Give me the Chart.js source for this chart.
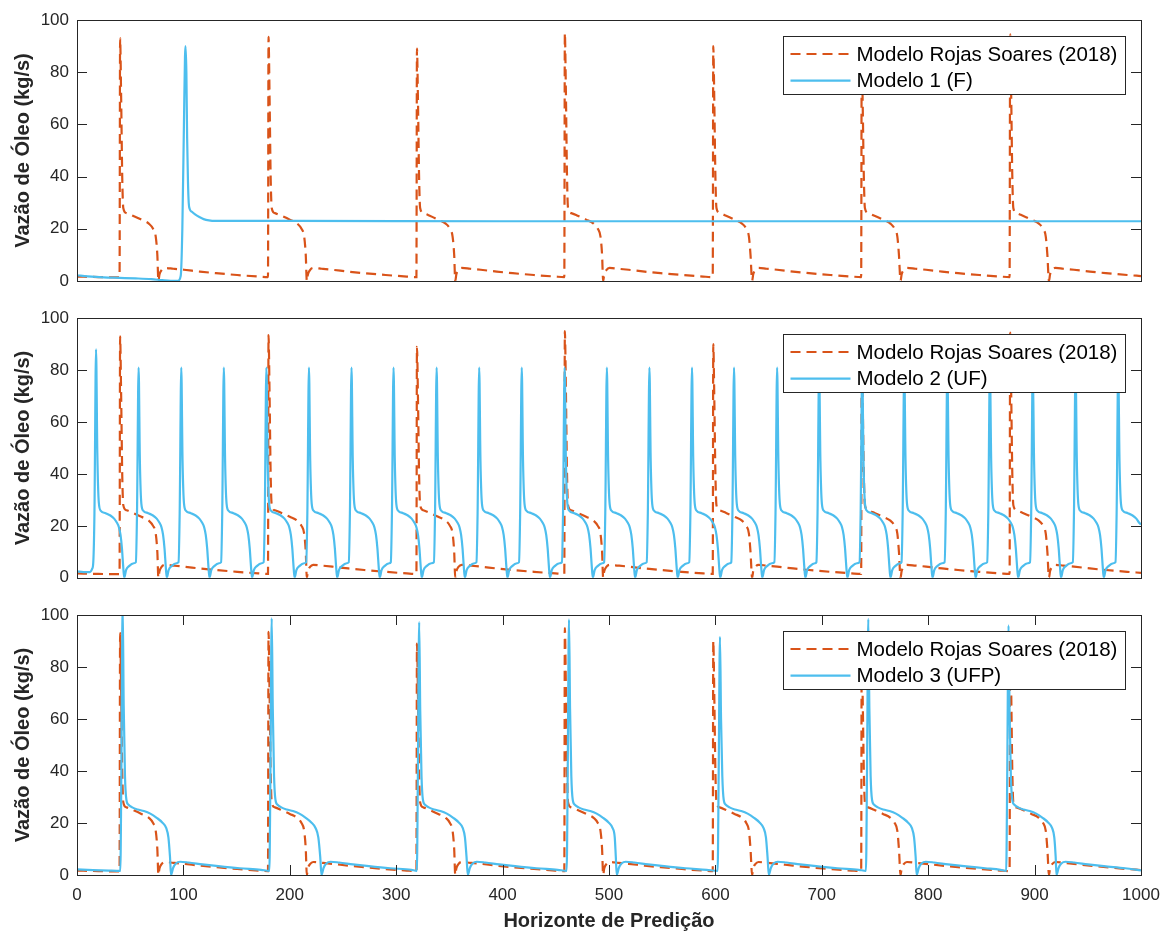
<!DOCTYPE html>
<html>
<head>
<meta charset="utf-8">
<script src="https://cdn.jsdelivr.net/npm/chart.js@4.4.0/dist/chart.umd.min.js"></script>
<style>
  html, body { margin: 0; padding: 0; background: #fff; }
  #wrap { position: relative; width: 1165px; height: 932px; }
  .panel { position: absolute; left: 0; }
</style>
</head>
<body>
<div id="wrap">
  <div class="panel" style="top:0px"><canvas id="c1" width="1165" height="300"></canvas></div>
  <div class="panel" style="top:300px"><canvas id="c2" width="1165" height="296"></canvas></div>
  <div class="panel" style="top:596px"><canvas id="c3" width="1165" height="336"></canvas></div>
</div>
<script>
// ---- labels / ticks ----
const rojasLabel = 'Modelo Rojas Soares (2018)';
const modelLabels = ['Modelo 1 (F)', 'Modelo 2 (UF)', 'Modelo 3 (UFP)'];
const yTitle = 'Vazão de Óleo (kg/s)';
const xTitle = 'Horizonte de Predição';
const xTickValues = [0, 100, 200, 300, 400, 500, 600, 700, 800, 900, 1000];
const yTickValues = [0, 20, 40, 60, 80, 100];

// ---- Modelo Rojas Soares (2018), same curve in all panels ----
const rojasX = [
  0, 20,
  40, 40.5, 41.5, 42.5, 43.5, 46.5, 52.5, 60.5, 67.5, 71.5, 74, 75.5, 76.5, 77.5, 79.5, 82.5, 90.5, 100.5, 115.5, 130.5, 150.5, 170.5,
  179.5, 180, 181, 182, 183, 186, 192, 200, 207, 211, 213.5, 215, 216, 217, 219, 222, 230, 240, 255, 270, 290, 310,
  319, 319.5, 320.5, 321.5, 322.5, 325.5, 331.5, 339.5, 346.5, 350.5, 353, 354.5, 355.5, 356.5, 358.5, 361.5, 369.5, 379.5, 394.5, 409.5, 429.5, 449.5,
  458, 458.5, 459.5, 460.5, 461.5, 464.5, 470.5, 478.5, 485.5, 489.5, 492, 493.5, 494.5, 495.5, 497.5, 500.5, 508.5, 518.5, 533.5, 548.5, 568.5, 588.5,
  597.5, 598, 599, 600, 601, 604, 610, 618, 625, 629, 631.5, 633, 634.5, 635.5, 637.5, 640.5, 648, 658, 673, 688, 708, 728,
  737, 737.5, 738.5, 739.5, 740.5, 743.5, 749.5, 757.5, 764.5, 768.5, 771, 772.5, 774, 775, 777, 780, 788, 798, 813, 828, 848, 868,
  876.5, 877, 878, 879, 880, 883, 889, 897, 904, 908, 910.5, 912, 913.5, 914.5, 916.5, 919.5, 927, 937, 952, 967, 987, 1000
];
const rojasY = [
  1.7, 1.5,
  1.4, 93, 70, 40, 28, 26, 25, 23.5, 22, 20, 17, 10, 0, 2.5, 4.2, 5, 4.7, 4.3, 3.6, 3, 2.3, 1.7,
  1.5, 93.5, 70, 40, 28, 26, 25, 23.5, 22, 20, 17, 10, 0, 2.5, 4.2, 5, 4.7, 4.3, 3.6, 3, 2.3, 1.7,
  1.5, 89, 68, 40, 28, 26, 25, 23.5, 22, 20, 17, 10, 0, 2.5, 4.2, 5, 4.7, 4.3, 3.6, 3, 2.3, 1.7,
  1.5, 95, 72, 41, 28, 26, 25, 23.5, 22, 20, 17, 10, 0, 2.5, 4.2, 5, 4.7, 4.3, 3.6, 3, 2.3, 1.7,
  1.5, 90, 68, 40, 28, 26, 25, 23.5, 22, 20, 17, 10, 0, 2.5, 4.2, 5, 4.7, 4.3, 3.6, 3, 2.3, 1.7,
  1.5, 88, 66, 40, 28, 26, 25, 23.5, 22, 20, 17, 10, 0, 2.5, 4.2, 5, 4.7, 4.3, 3.6, 3, 2.3, 1.7,
  1.5, 94.5, 71, 41, 28, 26, 25, 23.5, 22, 20, 17, 10, 0, 2.5, 4.2, 5, 4.7, 4.3, 3.6, 3, 2.3, 1.9
];

// ---- Modelo 1 (F) ----
const m1X = [0, 10, 25, 40, 55, 70, 80, 88, 95, 97.5, 99, 100.5, 101.5, 102, 102.8, 103.5, 104.3, 105, 106, 108, 111, 115, 119, 124, 130, 200, 400, 600, 800, 1000];
const m1Y = [2.2, 1.8, 1.4, 1.2, 1.0, 0.7, 0.3, 0.05, 0.1, 2, 20, 60, 86, 90, 80, 55, 38, 30, 27.5, 26.5, 25.5, 24.5, 23.7, 23.2, 23.0, 23.0, 22.9, 22.9, 22.9, 22.9];

// ---- Modelo 2 (UF) ----
const m2X = [
  0, 6, 12, 14.3,
  15.3, 16.4, 17.9, 19.1, 20.5, 22.4, 26.9, 31.4, 34.9, 37.4, 39.4, 40.9, 42.2, 43.4, 44.4, 46.1, 48.9, 53.4,
  55.3, 56.4, 57.9, 59.1, 60.5, 62.4, 66.9, 71.4, 74.9, 77.4, 79.4, 80.9, 82.2, 83.4, 84.4, 86.1, 88.9, 93.4,
  95.4, 96.5, 98, 99.2, 100.6, 102.5, 107, 111.5, 115, 117.5, 119.5, 121, 122.3, 123.5, 124.5, 126.2, 129, 133.5,
  135.4, 136.5, 138, 139.2, 140.6, 142.5, 147, 151.5, 155, 157.5, 159.5, 161, 162.3, 163.5, 164.5, 166.2, 169, 173.5,
  175.4, 176.5, 178, 179.2, 180.6, 182.5, 187, 191.5, 195, 197.5, 199.5, 201, 202.3, 203.5, 204.5, 206.2, 209, 213.5,
  215.4, 216.5, 218, 219.2, 220.6, 222.5, 227, 231.5, 235, 237.5, 239.5, 241, 242.3, 243.5, 244.5, 246.2, 249, 253.5,
  255.4, 256.5, 258, 259.2, 260.6, 262.5, 267, 271.5, 275, 277.5, 279.5, 281, 282.3, 283.5, 284.5, 286.2, 289, 293.5,
  294.9, 296, 297.5, 298.7, 300.1, 302, 306.5, 311, 314.5, 317, 319, 320.5, 321.8, 323, 324, 325.7, 328.5, 333,
  335.4, 336.5, 338, 339.2, 340.6, 342.5, 347, 351.5, 355, 357.5, 359.5, 361, 362.3, 363.5, 364.5, 366.2, 369, 373.5,
  375.4, 376.5, 378, 379.2, 380.6, 382.5, 387, 391.5, 395, 397.5, 399.5, 401, 402.3, 403.5, 404.5, 406.2, 409, 413.5,
  415.4, 416.5, 418, 419.2, 420.6, 422.5, 427, 431.5, 435, 437.5, 439.5, 441, 442.3, 443.5, 444.5, 446.2, 449, 453.5,
  455.7, 456.8, 458.3, 459.5, 460.9, 462.8, 467.3, 471.8, 475.3, 477.8, 479.8, 481.3, 482.6, 483.8, 484.8, 486.5, 489.3, 493.8,
  495.4, 496.5, 498, 499.2, 500.6, 502.5, 507, 511.5, 515, 517.5, 519.5, 521, 522.3, 523.5, 524.5, 526.2, 529, 533.5,
  535.4, 536.5, 538, 539.2, 540.6, 542.5, 547, 551.5, 555, 557.5, 559.5, 561, 562.3, 563.5, 564.5, 566.2, 569, 573.5,
  575.4, 576.5, 578, 579.2, 580.6, 582.5, 587, 591.5, 595, 597.5, 599.5, 601, 602.3, 603.5, 604.5, 606.2, 609, 613.5,
  614.9, 616, 617.5, 618.7, 620.1, 622, 626.5, 631, 634.5, 637, 639, 640.5, 641.8, 643, 644, 645.7, 648.5, 653,
  655.4, 656.5, 658, 659.2, 660.6, 662.5, 667, 671.5, 675, 677.5, 679.5, 681, 682.3, 683.5, 684.5, 686.2, 689, 693.5,
  694.9, 696, 697.5, 698.7, 700.1, 702, 706.5, 711, 714.5, 717, 719, 720.5, 721.8, 723, 724, 725.7, 728.5, 733,
  735.4, 736.5, 738, 739.2, 740.6, 742.5, 747, 751.5, 755, 757.5, 759.5, 761, 762.3, 763.5, 764.5, 766.2, 769, 773.5,
  774.9, 776, 777.5, 778.7, 780.1, 782, 786.5, 791, 794.5, 797, 799, 800.5, 801.8, 803, 804, 805.7, 808.5, 813,
  815.4, 816.5, 818, 819.2, 820.6, 822.5, 827, 831.5, 835, 837.5, 839.5, 841, 842.3, 843.5, 844.5, 846.2, 849, 853.5,
  855.4, 856.5, 858, 859.2, 860.6, 862.5, 867, 871.5, 875, 877.5, 879.5, 881, 882.3, 883.5, 884.5, 886.2, 889, 893.5,
  895.7, 896.8, 898.3, 899.5, 900.9, 902.8, 907.3, 911.8, 915.3, 917.8, 919.8, 921.3, 922.6, 923.8, 924.8, 926.5, 929.3, 933.8,
  935.9, 937, 938.5, 939.7, 941.1, 943, 947.5, 952, 955.5, 958, 960, 961.5, 962.8, 964, 965, 966.7, 969.5, 974,
  976, 977.1, 978.6, 979.8, 981.2, 983.1, 987.6, 992.1, 995.6, 998.1, 1000
];
const m2Y = [
  2.5, 2.2, 2.2, 3.5,
  6, 25, 88, 48, 29, 25.8, 24.9, 24, 22.8, 21.3, 19.5, 16.5, 11.5, 4.5, 0, 3, 4.5, 5.6,
  6, 25, 81, 45, 28.5, 25.8, 24.9, 24, 22.8, 21.3, 19.5, 16.5, 11.5, 4.5, 0, 3, 4.5, 5.6,
  6, 25, 81, 45, 28.5, 25.8, 24.9, 24, 22.8, 21.3, 19.5, 16.5, 11.5, 4.5, 0, 3, 4.5, 5.6,
  6, 25, 81, 45, 28.5, 25.8, 24.9, 24, 22.8, 21.3, 19.5, 16.5, 11.5, 4.5, 0, 3, 4.5, 5.6,
  6, 25, 81, 45, 28.5, 25.8, 24.9, 24, 22.8, 21.3, 19.5, 16.5, 11.5, 4.5, 0, 3, 4.5, 5.6,
  6, 25, 81, 45, 28.5, 25.8, 24.9, 24, 22.8, 21.3, 19.5, 16.5, 11.5, 4.5, 0, 3, 4.5, 5.6,
  6, 25, 81, 45, 28.5, 25.8, 24.9, 24, 22.8, 21.3, 19.5, 16.5, 11.5, 4.5, 0, 3, 4.5, 5.6,
  6, 25, 81, 45, 28.5, 25.8, 24.9, 24, 22.8, 21.3, 19.5, 16.5, 11.5, 4.5, 0, 3, 4.5, 5.6,
  6, 25, 81, 45, 28.5, 25.8, 24.9, 24, 22.8, 21.3, 19.5, 16.5, 11.5, 4.5, 0, 3, 4.5, 5.6,
  6, 25, 81, 45, 28.5, 25.8, 24.9, 24, 22.8, 21.3, 19.5, 16.5, 11.5, 4.5, 0, 3, 4.5, 5.6,
  6, 25, 81, 45, 28.5, 25.8, 24.9, 24, 22.8, 21.3, 19.5, 16.5, 11.5, 4.5, 0, 3, 4.5, 5.6,
  6, 25, 81, 45, 28.5, 25.8, 24.9, 24, 22.8, 21.3, 19.5, 16.5, 11.5, 4.5, 0, 3, 4.5, 5.6,
  6, 25, 81, 45, 28.5, 25.8, 24.9, 24, 22.8, 21.3, 19.5, 16.5, 11.5, 4.5, 0, 3, 4.5, 5.6,
  6, 25, 81, 45, 28.5, 25.8, 24.9, 24, 22.8, 21.3, 19.5, 16.5, 11.5, 4.5, 0, 3, 4.5, 5.6,
  6, 25, 81, 45, 28.5, 25.8, 24.9, 24, 22.8, 21.3, 19.5, 16.5, 11.5, 4.5, 0, 3, 4.5, 5.6,
  6, 25, 81, 45, 28.5, 25.8, 24.9, 24, 22.8, 21.3, 19.5, 16.5, 11.5, 4.5, 0, 3, 4.5, 5.6,
  6, 25, 81, 45, 28.5, 25.8, 24.9, 24, 22.8, 21.3, 19.5, 16.5, 11.5, 4.5, 0, 3, 4.5, 5.6,
  6, 25, 81, 45, 28.5, 25.8, 24.9, 24, 22.8, 21.3, 19.5, 16.5, 11.5, 4.5, 0, 3, 4.5, 5.6,
  6, 25, 81, 45, 28.5, 25.8, 24.9, 24, 22.8, 21.3, 19.5, 16.5, 11.5, 4.5, 0, 3, 4.5, 5.6,
  6, 25, 81, 45, 28.5, 25.8, 24.9, 24, 22.8, 21.3, 19.5, 16.5, 11.5, 4.5, 0, 3, 4.5, 5.6,
  6, 25, 81, 45, 28.5, 25.8, 24.9, 24, 22.8, 21.3, 19.5, 16.5, 11.5, 4.5, 0, 3, 4.5, 5.6,
  6, 25, 81, 45, 28.5, 25.8, 24.9, 24, 22.8, 21.3, 19.5, 16.5, 11.5, 4.5, 0, 3, 4.5, 5.6,
  6, 25, 81, 45, 28.5, 25.8, 24.9, 24, 22.8, 21.3, 19.5, 16.5, 11.5, 4.5, 0, 3, 4.5, 5.6,
  6, 25, 81, 45, 28.5, 25.8, 24.9, 24, 22.8, 21.3, 19.5, 16.5, 11.5, 4.5, 0, 3, 4.5, 5.6,
  6, 25, 81, 45, 28.5, 25.8, 24.9, 24, 22.8, 21.3, 20.5
];

// ---- Modelo 3 (UFP) ----
const m3X = [
  0, 15, 30,
  40.7, 41.7, 42.9, 43.9, 45.1, 46.4, 48.4, 51.9, 56.9, 62.9, 68.9, 74.9, 79.9, 83.9, 85.9, 87.4, 88.4, 90.4, 92.9, 96.9, 104.9, 117.9, 132.9, 152.9, 172.9,
  180.8, 181.8, 183, 184, 185.2, 186.5, 188.5, 192, 197, 203, 209, 215, 220, 224.3, 226.8, 228.6, 229.8, 231.8, 234.3, 238.3, 246.3, 259.3, 274.3, 294.3, 314.3,
  319.4, 320.4, 321.6, 322.6, 323.8, 325.1, 327.1, 330.6, 335.6, 341.6, 347.6, 353.6, 358.6, 362.6, 364.6, 366.1, 367.3, 369.3, 371.8, 375.8, 383.8, 396.8, 411.8, 431.8, 451.8,
  460.2, 461.2, 462.4, 463.4, 464.6, 465.9, 467.9, 471.4, 476.4, 482.4, 488.4, 494.4, 499.4, 503.4, 505.4, 506.4, 507.3, 509.3, 511.8, 515.8, 523.8, 536.8, 551.8, 571.8, 591.8,
  602.1, 603.1, 604.3, 605.3, 606.5, 607.8, 609.8, 613.3, 618.3, 624.3, 630.3, 636.3, 641.3, 645.3, 647.5, 649, 650.2, 652.2, 654.7, 658.7, 666.7, 679.7, 694.7, 714.7, 734.7,
  741.5, 742.5, 743.7, 744.7, 745.9, 747.2, 749.2, 752.7, 757.7, 763.7, 769.7, 775.7, 780.7, 784.7, 786.7, 788.2, 789.2, 791.2, 793.7, 797.7, 805.7, 818.7, 833.7, 853.7, 868,
  873.3, 874.3, 875.5, 876.5, 877.7, 879, 881, 884.5, 889.5, 895.5, 901.5, 907.5, 912.5, 916.5, 918.5, 919.8, 920.6, 922.6, 925.1, 929.1, 937.1, 950.1, 965.1, 985.1, 1000
];
const m3Y = [
  2.2, 1.9, 1.7,
  1.6, 40, 104, 65, 38, 29, 27, 26, 25.2, 24.6, 23.6, 22, 20.3, 18, 14.5, 7, 0, 2.8, 4.4, 5.1, 4.8, 4.1, 3.4, 2.6, 2.0,
  1.6, 40, 98.7, 64, 38, 29, 27, 26, 25.2, 24.6, 23.6, 22, 20.3, 18, 14.5, 7, 0, 2.8, 4.4, 5.1, 4.8, 4.1, 3.4, 2.6, 2.0,
  1.6, 40, 97.3, 63, 38, 29, 27, 26, 25.2, 24.6, 23.6, 22, 20.3, 18, 14.5, 7, 0, 2.8, 4.4, 5.1, 4.8, 4.1, 3.4, 2.6, 2.0,
  1.6, 40, 98.3, 64, 38, 29, 27, 26, 25.2, 24.6, 23.6, 22, 20.3, 18, 14.5, 7, 0, 2.8, 4.4, 5.1, 4.8, 4.1, 3.4, 2.6, 2.0,
  1.6, 40, 91.6, 60, 38, 29, 27, 26, 25.2, 24.6, 23.6, 22, 20.3, 18, 14.5, 7, 0, 2.8, 4.4, 5.1, 4.8, 4.1, 3.4, 2.6, 2.0,
  1.6, 40, 98.5, 64, 38, 29, 27, 26, 25.2, 24.6, 23.6, 22, 20.3, 18, 14.5, 7, 0, 2.8, 4.4, 5.1, 4.8, 4.1, 3.4, 2.6, 2.0,
  1.6, 40, 96, 62, 38, 29, 27, 26, 25.2, 24.6, 23.6, 22, 20.3, 18, 14.5, 7, 0, 2.8, 4.4, 5.1, 4.8, 4.1, 3.4, 2.6, 1.8
];

const FONT = '"Liberation Sans", Arial, Helvetica, sans-serif';
const ORANGE = '#D95319';
const BLUE = '#4DBEEE';
const INK = '#262626';

function pts(xs, ys) {
  return xs.map((x, i) => ({ x: x, y: ys[i] }));
}

// box around the axes + inward tick marks (matlab look)
const framePlugin = {
  id: 'frame',
  afterDatasetsDraw(chart, args, opts) {
    const { ctx, chartArea: a } = chart;
    const xs = chart.scales.x, ys = chart.scales.y;
    const L = 10;
    ctx.save();
    ctx.strokeStyle = INK;
    ctx.lineWidth = 1;
    ctx.setLineDash([]);
    ctx.beginPath();
    yTickValues.forEach(v => {
      const py = Math.round(ys.getPixelForValue(v)) + 0.5;
      ctx.moveTo(a.left, py); ctx.lineTo(a.left + L, py);
      ctx.moveTo(a.right, py); ctx.lineTo(a.right - L, py);
    });
    if (opts.xTicks) {
      xTickValues.forEach(v => {
        const px = Math.round(xs.getPixelForValue(v)) + 0.5;
        ctx.moveTo(px, a.bottom); ctx.lineTo(px, a.bottom - L);
        ctx.moveTo(px, a.top); ctx.lineTo(px, a.top + L);
      });
    }
    ctx.stroke();
    ctx.strokeRect(Math.round(a.left) + 0.5, Math.round(a.top) + 0.5,
                   Math.round(a.right - a.left), Math.round(a.bottom - a.top));
    ctx.restore();
  }
};

// legend drawn inside the axes, top right, with a box
const boxLegend = {
  id: 'boxLegend',
  afterDraw(chart) {
    const { ctx, chartArea: a } = chart;
    const sets = chart.data.datasets;
    ctx.save();
    ctx.font = '20.5px ' + FONT;
    const tw = Math.max(...sets.map(d => ctx.measureText(d.label).width));
    const w = Math.round(tw + 81), h = 58;
    const x0 = Math.round(a.right - 16 - w) + 0.5;
    const y0 = Math.round(a.top + 16) + 0.5;
    ctx.fillStyle = '#fff';
    ctx.fillRect(x0, y0, w, h);
    ctx.setLineDash([]);
    ctx.strokeStyle = INK;
    ctx.lineWidth = 1;
    ctx.strokeRect(x0, y0, w, h);
    sets.forEach((d, i) => {
      const ly = y0 + 17.5 + i * 26.7;
      ctx.strokeStyle = d.borderColor;
      ctx.lineWidth = d.borderWidth;
      ctx.setLineDash(d.borderDash || []);
      ctx.beginPath();
      ctx.moveTo(x0 + 7, ly);
      ctx.lineTo(x0 + 67, ly);
      ctx.stroke();
      ctx.setLineDash([]);
      ctx.fillStyle = '#000';
      ctx.textAlign = 'left';
      ctx.textBaseline = 'middle';
      ctx.fillText(d.label, x0 + 73, ly + 1);
    });
    ctx.restore();
  }
};

function makePanel(id, label, mx, my, pad, showX) {
  return new Chart(document.getElementById(id), {
    type: 'line',
    data: {
      datasets: [
        { label: rojasLabel, data: pts(rojasX, rojasY), borderColor: ORANGE, borderWidth: 2.2, borderDash: [10, 6], order: 1 },
        { label: label, data: pts(mx, my), borderColor: BLUE, borderWidth: 2.2, order: 0 }
      ]
    },
    options: {
      responsive: false,
      animation: false,
      events: [],
      layout: { padding: pad },
      elements: {
        point: { radius: 0 },
        line: { cubicInterpolationMode: 'monotone', fill: false }
      },
      plugins: {
        legend: { display: false },
        tooltip: { enabled: false },
        frame: { xTicks: showX }
      },
      scales: {
        x: {
          type: 'linear', min: 0, max: 1000,
          display: showX,
          // grid hidden; tickLength only pushes the labels down
          grid: { display: false, drawTicks: true, tickLength: 6 },
          border: { display: false },
          afterBuildTicks: s => { s.ticks = xTickValues.map(v => ({ value: v })); },
          afterFit: s => { if (showX) s.height = 57; },
          ticks: {
            color: INK, font: { family: FONT, size: 17 }, padding: 4.5,
            maxRotation: 0, autoSkip: false, callback: v => String(v)
          },
          title: {
            display: showX, text: xTitle, color: INK,
            font: { family: FONT, size: 20, weight: 'bold', lineHeight: 1.1 },
            padding: { top: 0, bottom: 0 }
          }
        },
        y: {
          type: 'linear', min: 0, max: 100,
          grid: { display: false, drawTicks: false },
          border: { display: false },
          afterBuildTicks: s => { s.ticks = yTickValues.map(v => ({ value: v })); },
          afterFit: s => { s.width = 77; },
          ticks: { color: INK, font: { family: FONT, size: 17 }, padding: 8, callback: v => String(v) },
          title: {
            display: true, text: yTitle, color: INK,
            font: { family: FONT, size: 20, weight: 'bold', lineHeight: 1.2 },
            padding: { top: 11, bottom: 0 }
          }
        }
      }
    },
    plugins: [framePlugin, boxLegend]
  });
}

makePanel('c1', modelLabels[0], m1X, m1Y, { top: 20, bottom: 19, left: 0, right: 24 }, false);
makePanel('c2', modelLabels[1], m2X, m2Y, { top: 17, bottom: 18, left: 0, right: 24 }, false);
makePanel('c3', modelLabels[2], m3X, m3Y, { top: 19, bottom: 0, left: 0, right: 24 }, true);
</script>
</body>
</html>
